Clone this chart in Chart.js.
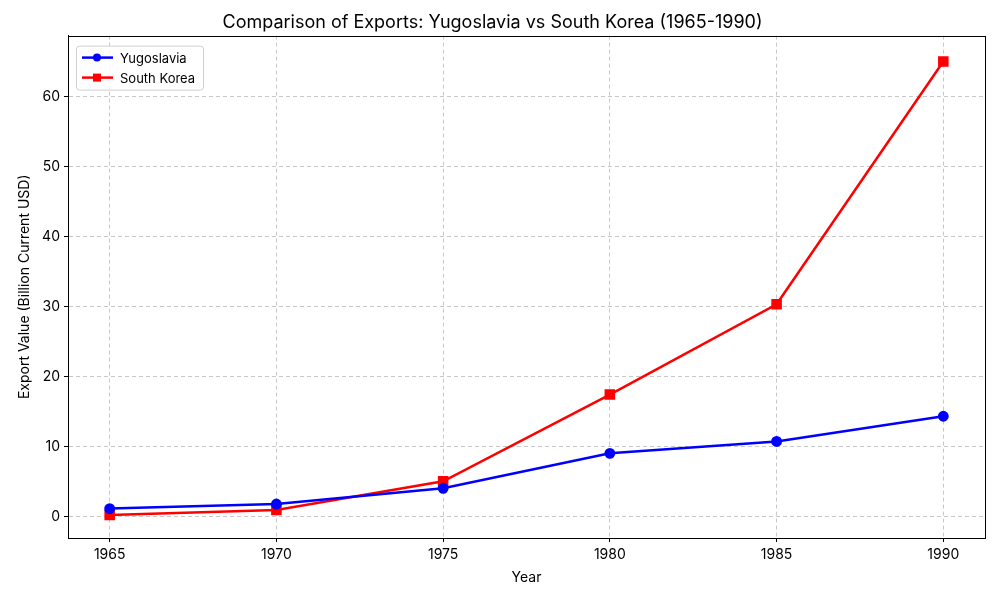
<!DOCTYPE html>
<html>
<head>
<meta charset="utf-8">
<script src="https://cdn.jsdelivr.net/npm/chart.js@4/dist/chart.umd.min.js"></script>
<style>
  html, body { margin: 0; padding: 0; background: #fff; }
  #wrap { width: 1000px; height: 600px; }
</style>
</head>
<body>
<div id="wrap"><canvas id="exportsChart" width="1000" height="600"></canvas></div>
<script>
// Exports, billion current USD
const years = [1965, 1970, 1975, 1980, 1985, 1990];
const yugoslavia = [1.1, 1.75, 4.0, 9.0, 10.7, 14.3];
const southKorea = [0.2, 0.9, 5.0, 17.4, 30.3, 65.0];
const yTicks = [0, 10, 20, 30, 40, 50, 60];

const fontFamily = "Inter, 'Open Sans', sans-serif";

// legend box drawn inside the plot, top-left (matplotlib style)
const innerLegend = {
  id: "innerLegend",
  afterDraw(chart) {
    const ctx = chart.ctx;
    const area = chart.chartArea;
    const x0 = area.left + 8, y0 = area.top + 10;
    const w = 127, h = 44;
    ctx.save();
    ctx.fillStyle = "rgba(255,255,255,0.85)";
    ctx.strokeStyle = "#d0d0d0";
    ctx.lineWidth = 1;
    ctx.beginPath();
    ctx.roundRect(x0 + 0.5, y0 + 0.5, w, h, 3);
    ctx.fill();
    ctx.stroke();
    ctx.font = "13px " + fontFamily;
    ctx.textBaseline = "middle";
    chart.data.datasets.forEach((ds, i) => {
      const cy = y0 + 12 + i * 20;
      ctx.strokeStyle = ds.borderColor;
      ctx.lineWidth = 2.5;
      ctx.beginPath();
      ctx.moveTo(x0 + 6, cy);
      ctx.lineTo(x0 + 37, cy);
      ctx.stroke();
      ctx.fillStyle = ds.backgroundColor;
      if (ds.pointStyle === "rect") {
        ctx.fillRect(x0 + 17, cy - 4, 8, 8);
      } else {
        ctx.beginPath();
        ctx.arc(x0 + 21, cy, 4, 0, Math.PI * 2);
        ctx.fill();
      }
      ctx.fillStyle = "#000";
      ctx.fillText(ds.label, x0 + 44, cy + 1);
    });
    ctx.restore();
  }
};

// box around the plot area
const frame = {
  id: "frame",
  afterDatasetsDraw(chart) {
    const { ctx, chartArea: a } = chart;
    ctx.save();
    ctx.strokeStyle = "#000";
    ctx.lineWidth = 1;
    ctx.strokeRect(Math.round(a.left) + 0.5, Math.round(a.top) + 0.5,
      Math.round(a.right - a.left), Math.round(a.bottom - a.top));
    ctx.restore();
  }
};

const gridOpts = {
  color: "#c8c8c8",
  tickColor: "#000",
  tickLength: 4,
  tickBorderDash: []
};

new Chart(document.getElementById("exportsChart"), {
  type: "line",
  data: {
    datasets: [
      {
        label: "Yugoslavia",
        data: years.map((y, i) => ({ x: y, y: yugoslavia[i] })),
        borderColor: "#0000ff",
        backgroundColor: "#0000ff",
        borderWidth: 2.5,
        pointStyle: "circle",
        pointRadius: 4.2,
        pointHoverRadius: 4.2,
        tension: 0
      },
      {
        label: "South Korea",
        data: years.map((y, i) => ({ x: y, y: southKorea[i] })),
        borderColor: "#ff0000",
        backgroundColor: "#ff0000",
        borderWidth: 2.5,
        pointStyle: "rect",
        pointRadius: 5.7,
        pointHoverRadius: 5.7,
        tension: 0
      }
    ]
  },
  options: {
    responsive: false,
    animation: false,
    layout: { padding: { left: 0, right: 15, top: 0, bottom: 0 } },
    plugins: {
      legend: { display: false },
      tooltip: { enabled: false },
      title: {
        display: true,
        text: "Comparison of Exports: Yugoslavia vs South Korea (1965-1990)",
        color: "#000",
        font: { family: fontFamily, size: 18, weight: "normal" },
        padding: { top: 12, bottom: 2 }
      }
    },
    scales: {
      x: {
        type: "linear",
        min: 1963.75,
        max: 1991.25,
        afterBuildTicks: (scale) => { scale.ticks = years.map((v) => ({ value: v })); },
        afterFit: (scale) => { scale.height = 62; },
        ticks: {
          color: "#000",
          font: { family: fontFamily, size: 14 },
          padding: 4,
          callback: (v) => String(v)
        },
        grid: gridOpts,
        border: { display: true, color: "#000", width: 1, dash: [4, 3] },
        title: {
          display: true,
          text: "Year",
          color: "#000",
          font: { family: fontFamily, size: 14 },
          padding: { top: 2, bottom: 14 }
        }
      },
      y: {
        min: -3.1,
        max: 68.7,
        afterBuildTicks: (scale) => { scale.ticks = yTicks.map((v) => ({ value: v })); },
        afterFit: (scale) => { scale.width = 68; },
        ticks: {
          color: "#000",
          font: { family: fontFamily, size: 14 },
          padding: 4
        },
        grid: gridOpts,
        border: { display: true, color: "#000", width: 1, dash: [4, 3] },
        title: {
          display: true,
          text: "Export Value (Billion Current USD)",
          color: "#000",
          font: { family: fontFamily, size: 14 },
          padding: { top: 16, bottom: 0 }
        }
      }
    }
  },
  plugins: [innerLegend, frame]
});
</script>
</body>
</html>
